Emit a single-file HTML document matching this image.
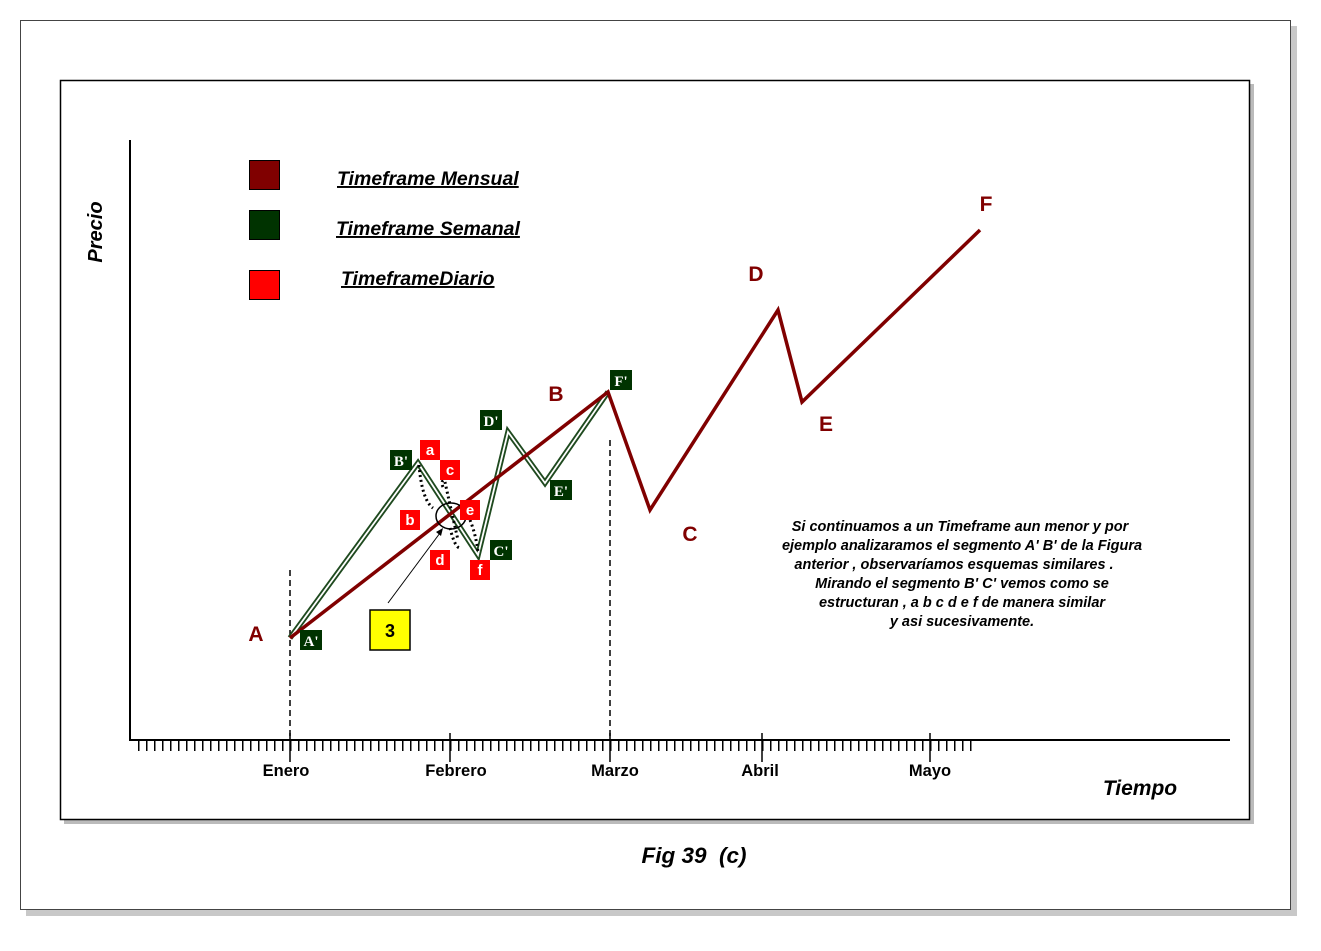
<!DOCTYPE html>
<html><head><meta charset="utf-8"><style>
body{margin:0;background:#fff;}
svg{display:block;font-family:"Liberation Sans",Arial,sans-serif;}
</style></head><body>
<svg width="1321" height="951" viewBox="0 0 1321 951">
<defs>
<pattern id="tk" x="2" y="741" width="8" height="10" patternUnits="userSpaceOnUse">
<rect x="0" y="0" width="1.5" height="10" fill="#000"/>
</pattern>
</defs>
<rect x="0" y="0" width="1321" height="951" fill="#fff"/>
<rect x="26" y="26" width="1271" height="890" fill="#c8c8c8"/>
<rect x="20.5" y="20.5" width="1270" height="889" fill="#fff" stroke="#444" stroke-width="1"/>
<rect x="64" y="84" width="1190" height="740" fill="#bbb"/>
<rect x="60.5" y="80.5" width="1189" height="739" fill="#fff" stroke="#000" stroke-width="1.5"/>
<line x1="130" y1="140" x2="130" y2="741" stroke="#000" stroke-width="2"/>
<line x1="129" y1="740" x2="1230" y2="740" stroke="#000" stroke-width="2"/>
<rect x="138" y="741" width="834" height="10" fill="url(#tk)"/>
<g stroke="#000" stroke-width="1.5">
<line x1="290" y1="733" x2="290" y2="762"/>
<line x1="450" y1="733" x2="450" y2="762"/>
<line x1="610" y1="733" x2="610" y2="762"/>
<line x1="762" y1="733" x2="762" y2="762"/>
<line x1="930" y1="733" x2="930" y2="762"/>
</g>
<g font-size="16.5" font-weight="bold" text-anchor="middle">
<text x="286" y="776">Enero</text>
<text x="456" y="776">Febrero</text>
<text x="615" y="776">Marzo</text>
<text x="760" y="776">Abril</text>
<text x="930" y="776">Mayo</text>
</g>
<text x="1140" y="795" font-size="21" font-weight="bold" font-style="italic" text-anchor="middle">Tiempo</text>
<text transform="translate(102,232) rotate(-90)" font-size="20" font-weight="bold" font-style="italic" text-anchor="middle">Precio</text>
<rect x="249.5" y="160.5" width="30" height="29" fill="#800000" stroke="#000"/>
<rect x="249.5" y="210.5" width="30" height="29" fill="#003300" stroke="#000"/>
<rect x="249.5" y="270.5" width="30" height="29" fill="#ff0000" stroke="#000"/>
<g font-size="19.5" font-weight="bold" font-style="italic" text-decoration="underline">
<text x="337" y="185">Timeframe Mensual</text>
<text x="336" y="235">Timeframe Semanal</text>
<text x="341" y="285">TimeframeDiario</text>
</g>
<line x1="290" y1="570" x2="290" y2="740" stroke="#000" stroke-width="1.5" stroke-dasharray="6,4"/>
<line x1="610" y1="440" x2="610" y2="740" stroke="#000" stroke-width="1.5" stroke-dasharray="6,4"/>
<polyline points="290,638 418,463 478,555 508,432 545,483 608,392" fill="none" stroke="#1f4a1f" stroke-width="5.5" stroke-linejoin="miter"/>
<polyline points="290,638 418,463 478,555 508,432 545,483 608,392" fill="none" stroke="#fff" stroke-width="1.8"/>
<path d="M419,465 Q422,500 433,508" fill="none" stroke="#000" stroke-width="3" stroke-dasharray="2,3"/>
<path d="M443,487 Q440,480 446,480" fill="none" stroke="#000" stroke-width="3" stroke-dasharray="2,3"/>
<path d="M445,482 Q450,505 458,540" fill="none" stroke="#000" stroke-width="3" stroke-dasharray="2,3"/>
<path d="M450,528 Q455,548 460,548" fill="none" stroke="#000" stroke-width="3" stroke-dasharray="2,3"/>
<path d="M470,520 Q476,535 478,552" fill="none" stroke="#000" stroke-width="3" stroke-dasharray="2,3"/>
<polyline points="290,638 608,392 650,510 778,310 802,402 980,230" fill="none" stroke="#800000" stroke-width="3.5" stroke-linejoin="miter"/>
<ellipse cx="451" cy="516" rx="15" ry="13" fill="none" stroke="#000" stroke-width="1.5"/>
<line x1="388" y1="603" x2="440" y2="533" stroke="#000" stroke-width="1"/>
<polygon points="443,528 436,532 441,536" fill="#000"/>
<rect x="370" y="610" width="40" height="40" fill="#ffff00" stroke="#000" stroke-width="1.5"/>
<text x="390" y="637" font-size="18" font-weight="bold" text-anchor="middle">3</text>
<g font-size="21" font-weight="bold" fill="#800000" text-anchor="middle">
<text x="256" y="641">A</text>
<text x="556" y="401">B</text>
<text x="690" y="541">C</text>
<text x="756" y="281">D</text>
<text x="826" y="431">E</text>
<text x="986" y="211">F</text>
</g>
<g font-family="'Liberation Serif',serif" font-size="15" font-weight="bold" fill="#fff" text-anchor="middle">
<rect x="300" y="630" width="22" height="20" fill="#003300"/><text x="311" y="646">A'</text>
<rect x="390" y="450" width="22" height="20" fill="#003300"/><text x="401" y="466">B'</text>
<rect x="490" y="540" width="22" height="20" fill="#003300"/><text x="501" y="556">C'</text>
<rect x="480" y="410" width="22" height="20" fill="#003300"/><text x="491" y="426">D'</text>
<rect x="550" y="480" width="22" height="20" fill="#003300"/><text x="561" y="496">E'</text>
<rect x="610" y="370" width="22" height="20" fill="#003300"/><text x="621" y="386">F'</text>
</g>
<g font-size="15" font-weight="bold" fill="#fff" text-anchor="middle">
<rect x="420" y="440" width="20" height="20" fill="#ff0000"/><text x="430" y="455">a</text>
<rect x="400" y="510" width="20" height="20" fill="#ff0000"/><text x="410" y="525">b</text>
<rect x="440" y="460" width="20" height="20" fill="#ff0000"/><text x="450" y="475">c</text>
<rect x="430" y="550" width="20" height="20" fill="#ff0000"/><text x="440" y="565">d</text>
<rect x="460" y="500" width="20" height="20" fill="#ff0000"/><text x="470" y="515">e</text>
<rect x="470" y="560" width="20" height="20" fill="#ff0000"/><text x="480" y="575">f</text>
</g>
<g font-size="14.5" font-weight="bold" font-style="italic" text-anchor="middle" xml:space="preserve">
<text x="960" y="531">Si continuamos  a un Timeframe aun menor   y por</text>
<text x="962" y="550">ejemplo analizaramos el segmento  A' B'  de la Figura</text>
<text x="954" y="569">anterior , observaríamos esquemas similares .</text>
<text x="962" y="588">Mirando el segmento  B' C'  vemos como se</text>
<text x="962" y="607">estructuran , a b c d e f   de manera similar</text>
<text x="962" y="626">y asi sucesivamente.</text>
</g>
<text x="694" y="863" font-size="22.5" font-weight="bold" font-style="italic" text-anchor="middle" xml:space="preserve">Fig 39  (c)</text>
</svg>
</body></html>
